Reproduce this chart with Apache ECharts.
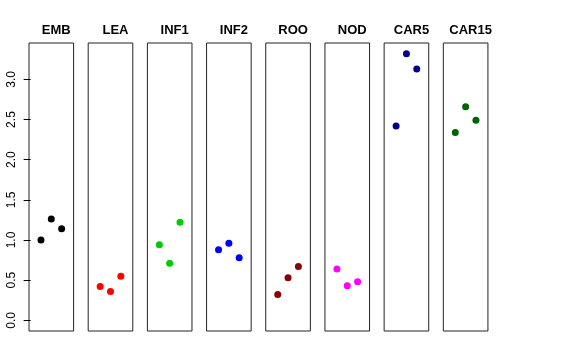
<!DOCTYPE html>
<html>
<head>
<meta charset="utf-8">
<script src="https://cdn.jsdelivr.net/npm/echarts@6/dist/echarts.min.js"></script>
<style>html,body{margin:0;padding:0;background:#fff}#c{width:576px;height:360px}</style>
</head>
<body>
<div id="c"></div>
<script>
var panels = ["EMB","LEA","INF1","INF2","ROO","NOD","CAR5","CAR15"];
var colors = ["#000000","#FF0000","#00CD00","#0000FF","#8B0000","#FF00FF","#00008B","#006400"];
var xPos = [1, 2, 3];
var EMB = [1.00, 1.26, 1.14];
var LEA = [0.42, 0.36, 0.55];
var INF1 = [0.94, 0.71, 1.22];
var INF2 = [0.88, 0.96, 0.78];
var ROO = [0.32, 0.53, 0.67];
var NOD = [0.64, 0.43, 0.48];
var CAR5 = [2.42, 3.32, 3.13];
var CAR15 = [2.34, 2.66, 2.49];
var yTicks = [0, 0.5, 1.0, 1.5, 2.0, 2.5, 3.0];
var values = [EMB, LEA, INF1, INF2, ROO, NOD, CAR5, CAR15];

var yMin = -0.133, yMax = 3.453;
var grids = [], xAxes = [], yAxes = [], series = [], titles = [];
var step = 59.19, left0 = 29, w = 44.6;
panels.forEach(function(name, i){
  var l = left0 + step * i;
  grids.push({left: l, top: 43, width: w, height: 288, show: true, borderColor: '#222', borderWidth: 1, backgroundColor: 'transparent'});
  xAxes.push({type: 'value', gridIndex: i, min: -0.16, max: 4.16, show: false});
  yAxes.push({
    type: 'value', gridIndex: i, min: yMin, max: yMax,
    show: i === 0,
    axisLine: {show: false},
    splitLine: {show: false},
    axisTick: {show: true, length: 7, lineStyle: {color: '#000'}, customValues: yTicks},
    axisLabel: {show: true, rotate: 90, margin: 11, fontSize: 12, color: '#000', fontFamily: 'Liberation Sans, Arial, sans-serif',
      customValues: yTicks, formatter: function(v){ return v.toFixed(1); }}
  });
  titles.push({text: name, left: l + w / 2, top: 19, textAlign: 'center',
    textStyle: {fontSize: 13, fontWeight: 'bold', color: '#000', fontFamily: 'Liberation Sans, Arial, sans-serif'}});
  series.push({
    type: 'scatter', xAxisIndex: i, yAxisIndex: i, symbol: 'circle', symbolSize: 7,
    itemStyle: {color: colors[i], opacity: 1},
    data: xPos.map(function(x, k){ return [x, values[i][k]]; })
  });
});

var chart = echarts.init(document.getElementById('c'), null, {renderer: 'canvas'});
chart.setOption({
  animation: false,
  backgroundColor: '#fff',
  title: titles,
  grid: grids,
  xAxis: xAxes,
  yAxis: yAxes,
  series: series
});
</script>
</body>
</html>
